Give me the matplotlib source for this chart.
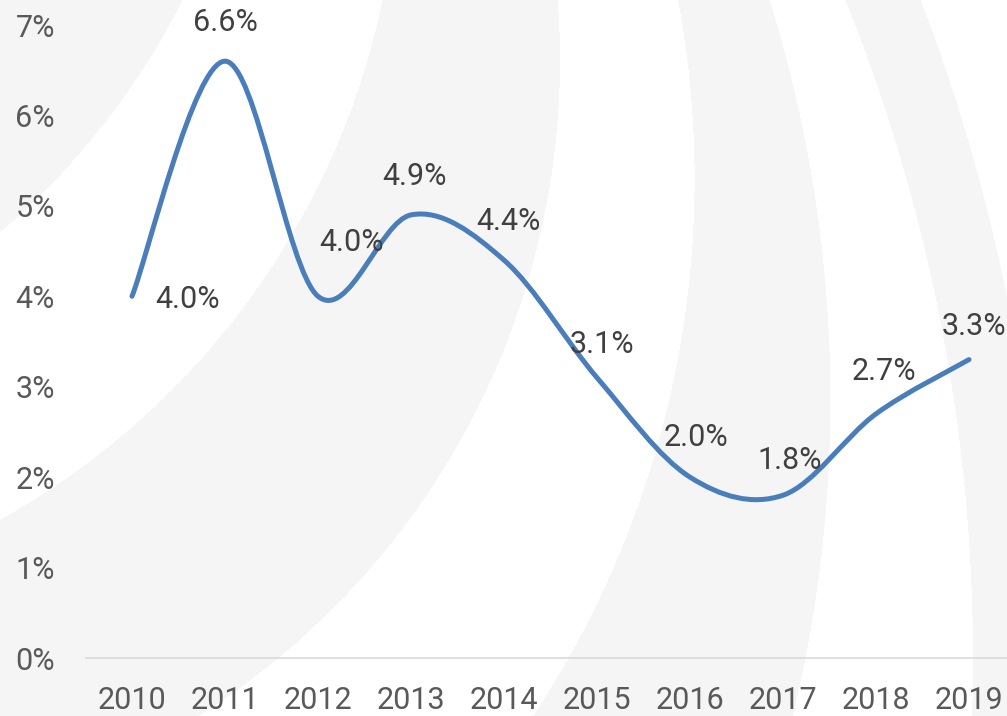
import matplotlib
matplotlib.use("Agg")
import matplotlib.pyplot as plt
from matplotlib.path import Path
from matplotlib.patches import PathPatch
from matplotlib.colors import ListedColormap
import numpy as np

years = ['2010', '2011', '2012', '2013', '2014', '2015', '2016', '2017', '2018', '2019']
growth = [4.0, 6.6, 4.0, 4.9, 4.4, 3.1, 2.0, 1.8, 2.7, 3.3]
y_ticks = [0, 1, 2, 3, 4, 5, 6, 7]

# data label offsets in pixels (dx, dy)
label_offsets = [(56, -3), (0, 39), (34, 54), (3, 38), (4, 39),
                 (5, 33), (6, 40), (7, 35), (8, 42), (5, 33)]

W, H = 1007, 716
fig = plt.figure(figsize=(W / 100, H / 100), dpi=100)
plt.rcParams['font.family'] = ['Roboto', 'DejaVu Sans']

# decorative background arcs
yy, xx = np.mgrid[0:H, 0:W] + 0.5
def inside(cx, cy, r):
    return (xx - cx) ** 2 + (yy - cy) ** 2 < r ** 2

gray = (inside(-491, -341, 755)
        | (inside(-216, 60, 776) & ~inside(-378, -159, 777))
        | (inside(-515.6, 400, 1346) & ~inside(-279, 179, 973.6))
        | (inside(-792, 659, 1835) & ~inside(-792, 659, 1765)))
bg = fig.add_axes([0, 0, 1, 1], zorder=0)
bg.imshow(gray.astype(float), cmap=ListedColormap(['white', '#f5f5f5']),
          extent=(0, W, H, 0), aspect='auto', interpolation='bilinear')
bg.axis('off')

ax = fig.add_axes([85.5 / W, 58 / H, 930 / W, 633 / H], zorder=1)
ax.set_facecolor('none')

# smoothed line (Catmull-Rom style bezier like Excel)
x = np.arange(len(growth))
pts = np.column_stack([x, growth])
ext = np.vstack([pts[0], pts, pts[-1]])
verts = [pts[0]]
codes = [Path.MOVETO]
for i in range(len(pts) - 1):
    p0, p1, p2, p3 = ext[i], ext[i + 1], ext[i + 2], ext[i + 3]
    verts += [p1 + (p2 - p0) / 6, p2 - (p3 - p1) / 6, p2]
    codes += [Path.CURVE4] * 3
ax.add_patch(PathPatch(Path(verts, codes), fill=False, edgecolor='#4a7ebb',
                       lw=3.6, capstyle='round', joinstyle='round'))

for xi, v, (dx, dy) in zip(x, growth, label_offsets):
    ax.annotate(f'{v:.1f}%', (xi, v), xytext=(dx, dy), textcoords='offset pixels',
                ha='center', va='center', fontsize=22, color='#404040')

ax.set_xlim(-0.5, len(years) - 0.5)
ax.set_ylim(0, 7)
ax.set_xticks(x)
ax.set_xticklabels(years)
ax.set_yticks(y_ticks)
ax.set_yticklabels([f'{t}%' for t in y_ticks])
ax.tick_params(length=0, labelcolor='#595959')
ax.tick_params(axis='y', pad=22, labelsize=22)
ax.tick_params(axis='x', pad=20, labelsize=22)
for s in ['top', 'left', 'right']:
    ax.spines[s].set_visible(False)
ax.spines['bottom'].set_color('#d9d9d9')
ax.spines['bottom'].set_linewidth(1.2)

fig.savefig('out.png', dpi=100)
